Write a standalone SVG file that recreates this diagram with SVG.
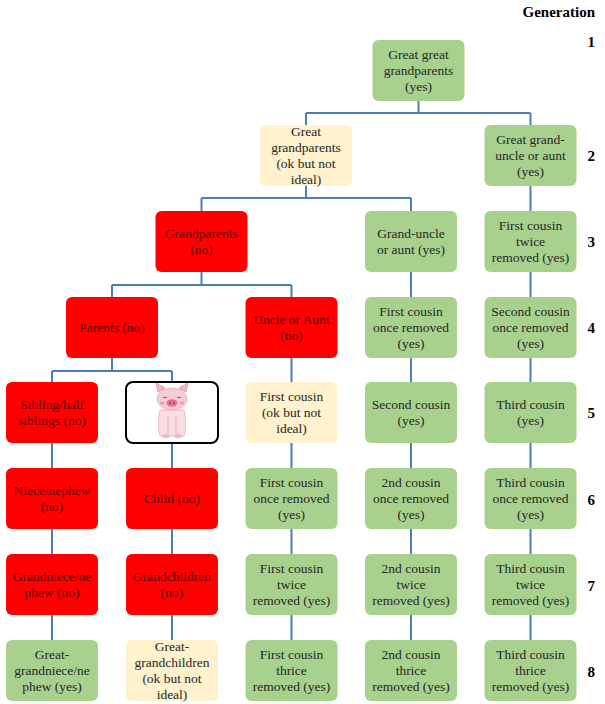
<svg xmlns="http://www.w3.org/2000/svg" width="605" height="704" viewBox="0 0 605 704">
<style>
.g{fill:#a9d18e}
.y{fill:#fff2cc}
.r{fill:#ff0000}
.t{font-family:'Liberation Serif','DejaVu Serif','Noto Serif',serif;font-size:13.5px;text-anchor:middle;fill:#262626}
.tr{fill:#5a0000}
.gen{font-family:'Liberation Serif','DejaVu Serif','Noto Serif',serif;font-size:15px;font-weight:bold;text-anchor:end;fill:#000}
.c{fill:none;stroke:#4a7ebb;stroke-width:2}
</style>
<rect width="605" height="704" fill="#fff"/>
<g id="connectors" class="c">
<path d="M418.5 101V113M306 113H530.5M306 113V125M530.5 113V125"/>
<path d="M306 186V198M201.5 198H411M201.5 198V211M411 198V211M530.5 186V211"/>
<path d="M201.5 272V285M112 285H291.5M112 285V297M291.5 285V297M411 272V297M530.5 272V297"/>
<path d="M112 358V371M52 371H172M52 371V382M172 371V382M291.5 358V382M411 358V382M530.5 358V382"/>
<path d="M52 443V468M52 529V554M52 615V640M172 443V468M172 529V554M172 615V640M291.5 443V468M291.5 529V554M291.5 615V640M411 443V468M411 529V554M411 615V640M530.5 443V468M530.5 529V554M530.5 615V640"/>
</g>
<g id="generation" font-family="Liberation Serif, serif">
<text class="gen" x="595" y="17">Generation</text>
<text class="gen" x="595" y="47">1</text>
<text class="gen" x="595" y="161">2</text>
<text class="gen" x="595" y="247">3</text>
<text class="gen" x="595" y="333">4</text>
<text class="gen" x="595" y="418">5</text>
<text class="gen" x="595" y="505">6</text>
<text class="gen" x="595" y="591">7</text>
<text class="gen" x="595" y="677">8</text>
</g>
<g id="n-greatgreatgrandparents"><rect class="g" x="372.5" y="40" width="92" height="61" rx="6"/><text class="t" x="418.5"><tspan x="418.5" y="59">Great great</tspan><tspan x="418.5" y="75">grandparents</tspan><tspan x="418.5" y="91">(yes)</tspan></text></g>
<g id="n-greatgrandparents"><rect class="y" x="260" y="125" width="92" height="61" rx="6"/><text class="t"><tspan x="306" y="136">Great</tspan><tspan x="306" y="152">grandparents</tspan><tspan x="306" y="168">(ok but not</tspan><tspan x="306" y="184">ideal)</tspan></text></g>
<g id="n-greatgranduncle"><rect class="g" x="484.5" y="125" width="92" height="61" rx="6"/><text class="t"><tspan x="530.5" y="144">Great grand-</tspan><tspan x="530.5" y="160">uncle or aunt</tspan><tspan x="530.5" y="176">(yes)</tspan></text></g>
<g id="n-grandparents"><rect class="r" x="155.5" y="211" width="92" height="61" rx="6"/><text class="t tr"><tspan x="201.5" y="238">Grandparents</tspan><tspan x="201.5" y="254">(no)</tspan></text></g>
<g id="n-granduncle"><rect class="g" x="365" y="211" width="92" height="61" rx="6"/><text class="t"><tspan x="411" y="238">Grand-uncle</tspan><tspan x="411" y="254">or aunt (yes)</tspan></text></g>
<g id="n-fc2r-a"><rect class="g" x="484.5" y="211" width="92" height="61" rx="6"/><text class="t"><tspan x="530.5" y="230">First cousin</tspan><tspan x="530.5" y="246">twice</tspan><tspan x="530.5" y="262">removed (yes)</tspan></text></g>
<g id="n-parents"><rect class="r" x="66" y="297" width="92" height="61" rx="6"/><text class="t tr" x="112" y="332">Parents (no)</text></g>
<g id="n-uncleaunt"><rect class="r" x="245.5" y="297" width="92" height="61" rx="6"/><text class="t tr"><tspan x="291.5" y="324">Uncle or Aunt</tspan><tspan x="291.5" y="340">(no)</tspan></text></g>
<g id="n-fc1r-a"><rect class="g" x="365" y="297" width="92" height="61" rx="6"/><text class="t"><tspan x="411" y="316">First cousin</tspan><tspan x="411" y="332">once removed</tspan><tspan x="411" y="348">(yes)</tspan></text></g>
<g id="n-sc1r-a"><rect class="g" x="484.5" y="297" width="92" height="61" rx="6"/><text class="t"><tspan x="530.5" y="316">Second cousin</tspan><tspan x="530.5" y="332">once removed</tspan><tspan x="530.5" y="348">(yes)</tspan></text></g>
<g id="n-sibling"><rect class="r" x="6" y="382" width="92" height="61" rx="6"/><text class="t tr"><tspan x="52" y="409">Sibling/half</tspan><tspan x="52" y="425">siblings (no)</tspan></text></g>
<g id="n-self">
<rect x="126" y="382" width="92" height="61" rx="7" fill="#fff" stroke="#000" stroke-width="2"/>
<g id="pig">
<path d="M158 392 L156 383 L165 388 Z" fill="#f2b8c2" stroke="#e58a9c" stroke-width="0.8"/>
<path d="M186 392 L188 383 L179 388 Z" fill="#f2b8c2" stroke="#e58a9c" stroke-width="0.8"/>
<path d="M160 410 Q157 425 160 436 L184 436 Q187 425 184 410 Z" fill="#f9dde2" stroke="#ecaab7" stroke-width="0.8"/>
<ellipse cx="172" cy="399" rx="15" ry="11" fill="#f7ccd4" stroke="#ecaab7" stroke-width="0.8"/>
<ellipse cx="172" cy="403" rx="5.5" ry="3.8" fill="#e0708a"/>
<circle cx="170" cy="403" r="0.9" fill="#a83a55"/>
<circle cx="174" cy="403" r="0.9" fill="#a83a55"/>
<path d="M163 397 q2 1.5 4 0 M177 397 q2 1.5 4 0" fill="none" stroke="#7a3a45" stroke-width="0.9"/>
<ellipse cx="162" cy="403" rx="2.5" ry="1.6" fill="#f0a0b0"/>
<ellipse cx="182" cy="403" rx="2.5" ry="1.6" fill="#f0a0b0"/>
<path d="M168 416 V434 M176 416 V434" fill="none" stroke="#ecaab7" stroke-width="0.9"/>
<ellipse cx="166" cy="436" rx="4" ry="2" fill="#f2b8c2"/>
<ellipse cx="178" cy="436" rx="4" ry="2" fill="#f2b8c2"/>
</g>
</g>
<g id="n-firstcousin"><rect class="y" x="245.5" y="382" width="92" height="61" rx="6"/><text class="t"><tspan x="291.5" y="401">First cousin</tspan><tspan x="291.5" y="417">(ok but not</tspan><tspan x="291.5" y="433">ideal)</tspan></text></g>
<g id="n-secondcousin"><rect class="g" x="365" y="382" width="92" height="61" rx="6"/><text class="t"><tspan x="411" y="409">Second cousin</tspan><tspan x="411" y="425">(yes)</tspan></text></g>
<g id="n-thirdcousin"><rect class="g" x="484.5" y="382" width="92" height="61" rx="6"/><text class="t"><tspan x="530.5" y="409">Third cousin</tspan><tspan x="530.5" y="425">(yes)</tspan></text></g>
<g id="n-niece"><rect class="r" x="6" y="468" width="92" height="61" rx="6"/><text class="t tr"><tspan x="52" y="495">Niece/nephew</tspan><tspan x="52" y="511">(no)</tspan></text></g>
<g id="n-child"><rect class="r" x="126" y="468" width="92" height="61" rx="6"/><text class="t tr" x="172" y="503">Child (no)</text></g>
<g id="n-fc1r-b"><rect class="g" x="245.5" y="468" width="92" height="61" rx="6"/><text class="t"><tspan x="291.5" y="487">First cousin</tspan><tspan x="291.5" y="503">once removed</tspan><tspan x="291.5" y="519">(yes)</tspan></text></g>
<g id="n-2c1r"><rect class="g" x="365" y="468" width="92" height="61" rx="6"/><text class="t"><tspan x="411" y="487">2nd cousin</tspan><tspan x="411" y="503">once removed</tspan><tspan x="411" y="519">(yes)</tspan></text></g>
<g id="n-3c1r"><rect class="g" x="484.5" y="468" width="92" height="61" rx="6"/><text class="t"><tspan x="530.5" y="487">Third cousin</tspan><tspan x="530.5" y="503">once removed</tspan><tspan x="530.5" y="519">(yes)</tspan></text></g>
<g id="n-grandniece"><rect class="r" x="6" y="554" width="92" height="61" rx="6"/><text class="t tr"><tspan x="52" y="581">Grandniece/ne</tspan><tspan x="52" y="597">phew (no)</tspan></text></g>
<g id="n-grandchildren"><rect class="r" x="126" y="554" width="92" height="61" rx="6"/><text class="t tr"><tspan x="172" y="581">Grandchildren</tspan><tspan x="172" y="597">(no)</tspan></text></g>
<g id="n-fc2r-b"><rect class="g" x="245.5" y="554" width="92" height="61" rx="6"/><text class="t"><tspan x="291.5" y="573">First cousin</tspan><tspan x="291.5" y="589">twice</tspan><tspan x="291.5" y="605">removed (yes)</tspan></text></g>
<g id="n-2c2r"><rect class="g" x="365" y="554" width="92" height="61" rx="6"/><text class="t"><tspan x="411" y="573">2nd cousin</tspan><tspan x="411" y="589">twice</tspan><tspan x="411" y="605">removed (yes)</tspan></text></g>
<g id="n-3c2r"><rect class="g" x="484.5" y="554" width="92" height="61" rx="6"/><text class="t"><tspan x="530.5" y="573">Third cousin</tspan><tspan x="530.5" y="589">twice</tspan><tspan x="530.5" y="605">removed (yes)</tspan></text></g>
<g id="n-greatgrandniece"><rect class="g" x="6" y="640" width="92" height="61" rx="6"/><text class="t"><tspan x="52" y="659">Great-</tspan><tspan x="52" y="675">grandniece/ne</tspan><tspan x="52" y="691">phew (yes)</tspan></text></g>
<g id="n-greatgrandchildren"><rect class="y" x="126" y="640" width="92" height="61" rx="6"/><text class="t"><tspan x="172" y="651">Great-</tspan><tspan x="172" y="667">grandchildren</tspan><tspan x="172" y="683">(ok but not</tspan><tspan x="172" y="699">ideal)</tspan></text></g>
<g id="n-fc3r"><rect class="g" x="245.5" y="640" width="92" height="61" rx="6"/><text class="t"><tspan x="291.5" y="659">First cousin</tspan><tspan x="291.5" y="675">thrice</tspan><tspan x="291.5" y="691">removed (yes)</tspan></text></g>
<g id="n-2c3r"><rect class="g" x="365" y="640" width="92" height="61" rx="6"/><text class="t"><tspan x="411" y="659">2nd cousin</tspan><tspan x="411" y="675">thrice</tspan><tspan x="411" y="691">removed (yes)</tspan></text></g>
<g id="n-3c3r"><rect class="g" x="484.5" y="640" width="92" height="61" rx="6"/><text class="t"><tspan x="530.5" y="659">Third cousin</tspan><tspan x="530.5" y="675">thrice</tspan><tspan x="530.5" y="691">removed (yes)</tspan></text></g>
</svg>
